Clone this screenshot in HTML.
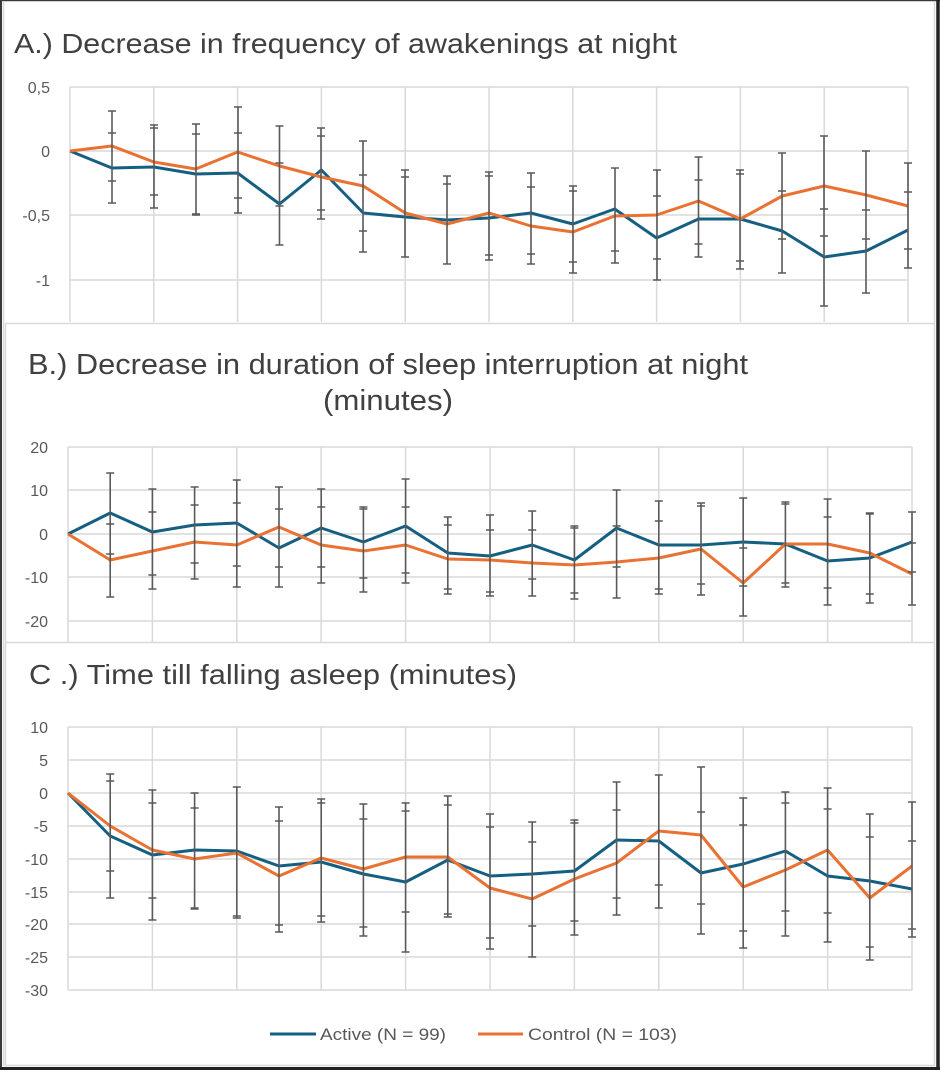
<!DOCTYPE html>
<html><head><meta charset="utf-8"><style>
html,body{margin:0;padding:0;background:#fff;}
svg{display:block;}
text{font-family:"Liberation Sans",Arial,sans-serif;}
</style></head><body>
<svg width="940" height="1070" viewBox="0 0 940 1070" xmlns="http://www.w3.org/2000/svg">
<rect x="0" y="0" width="940" height="1070" fill="#fff"/>
<!-- panel borders -->
<g fill="none" stroke="#d9d9d9" stroke-width="1.5">
<path d="M3.5 2V1066"/>
<path d="M5 323.5H935M5.5 323V1066M5 642.5H935M934.5 2V1066M5 1065.5H935"/>
</g>
<!-- outer dark frame -->
<g fill="none" stroke="#3a3a3a">
<path d="M0 0.5H940" stroke-width="1.5"/>
<path d="M1 0V1070" stroke-width="2"/>
<path d="M938 0V1070" stroke-width="3.5" stroke="#222"/>
<path d="M0 1068.5H940" stroke-width="3" stroke="#222"/>
</g>

<!-- gridlines -->
<g stroke="#d9d9d9" stroke-width="1.5" fill="none">
<path d="M70 87H908M70 151H908M70 215H908M70 280H908"/>
<path d="M70 87V322M153.8 87V322M237.6 87V322M321.4 87V322M405.2 87V322M489 87V322M572.8 87V322M656.6 87V322M740.4 87V322M824.2 87V322M908 87V322"/>
<path d="M68 447H912M68 490H912M68 534H912M68 577H912M68 621H912"/>
<path d="M68 447V642M152.4 447V642M236.8 447V642M321.2 447V642M405.6 447V642M490 447V642M574.4 447V642M658.8 447V642M743.2 447V642M827.6 447V642M912 447V642"/>
<path d="M68 727H912M68 760H912M68 793H912M68 826H912M68 859H912M68 892H912M68 924H912M68 957H912M68 990H912"/>
<path d="M68 727V990M152.4 727V990M236.8 727V990M321.2 727V990M405.6 727V990M490 727V990M574.4 727V990M658.8 727V990M743.2 727V990M827.6 727V990M912 727V990"/>
</g>

<!-- titles -->
<g fill="#404040">
<text x="14" y="53" font-size="28" textLength="663" lengthAdjust="spacingAndGlyphs">A.) Decrease in frequency of awakenings at night</text>
<text x="28" y="374" font-size="29" textLength="720" lengthAdjust="spacingAndGlyphs">B.) Decrease in duration of sleep interruption at night</text>
<text x="323" y="410" font-size="29" textLength="130" lengthAdjust="spacingAndGlyphs">(minutes)</text>
<text x="29" y="684" font-size="28" textLength="488" lengthAdjust="spacingAndGlyphs">C .) Time till falling asleep (minutes)</text>
</g>

<!-- y labels -->
<g fill="#595959" font-size="16" text-anchor="end">
<text x="50" y="93">0,5</text>
<text x="50" y="157">0</text>
<text x="50" y="221">-0,5</text>
<text x="50" y="286">-1</text>
<text x="48" y="453">20</text>
<text x="48" y="496">10</text>
<text x="48" y="540">0</text>
<text x="48" y="583">-10</text>
<text x="48" y="627">-20</text>
<text x="48" y="733">10</text>
<text x="48" y="766">5</text>
<text x="48" y="799">0</text>
<text x="48" y="832">-5</text>
<text x="48" y="865">-10</text>
<text x="48" y="898">-15</text>
<text x="48" y="930">-20</text>
<text x="48" y="963">-25</text>
<text x="48" y="996">-30</text>
</g>

<!-- series lines -->
<g fill="none" stroke-width="3" stroke-linejoin="round">
<polyline stroke="#156082" points="70,151 111.9,168 153.8,167 195.7,174 237.6,173 279.5,204 321.4,170 363.3,213 405.2,217 447.1,220 489,218 530.9,213 572.8,224 614.7,209 656.6,238 698.5,219 740.4,219 782.3,231 824.2,257 866.1,251 908,230"/>
<polyline stroke="#E97132" points="70,151 111.9,146 153.8,162 195.7,169 237.6,152 279.5,166 321.4,177 363.3,186 405.2,213 447.1,224 489,213 530.9,226 572.8,232 614.7,216 656.6,215 698.5,201 740.4,219 782.3,196 824.2,186 866.1,195 908,206"/>
<polyline stroke="#156082" points="68,534 110.2,513 152.4,532 194.6,525 236.8,523 279,548 321.2,528 363.4,542 405.6,526 447.8,553 490,556 532.2,545 574.4,560 616.6,528 658.8,545 701,545 743.2,542 785.4,544 827.6,561 869.8,558 912,542"/>
<polyline stroke="#E97132" points="68,534 110.2,560 152.4,551 194.6,542 236.8,545 279,527 321.2,545 363.4,551 405.6,545 447.8,559 490,560 532.2,563 574.4,565 616.6,562 658.8,558 701,549 743.2,583 785.4,544 827.6,544 869.8,553 912,574"/>
<polyline stroke="#156082" points="68,793 110.2,836 152.4,855 194.6,850 236.8,851 279,866 321.2,862 363.4,874 405.6,882 447.8,860 490,876 532.2,874 574.4,871 616.6,840 658.8,841 701,873 743.2,864 785.4,851 827.6,876 869.8,881 912,889"/>
<polyline stroke="#E97132" points="68,793 110.2,826 152.4,850 194.6,859 236.8,853 279,876 321.2,858 363.4,869 405.6,857 447.8,857 490,888 532.2,899 574.4,879 616.6,863 658.8,831 701,835 743.2,887 785.4,870 827.6,850 869.8,898 912,866"/>
</g>

<!-- error bars -->
<g fill="none" stroke="#595959" stroke-width="1.6">
<path d="M112 111V203M108 111h8M108 181h8M108 133h8M108 203h8
M154 125V208M150 125h8M150 128h8M150 195h8M150 208h8
M196 124V215M192 124h8M192 134h8M192 214h8M192 215h8
M238 107V213M234 107h8M234 133h8M234 198h8M234 213h8
M279.5 126V245M275.5 126h8M275.5 163h8M275.5 206h8M275.5 245h8
M321 128V219M317 128h8M317 136h8M317 210h8M317 219h8
M363 141V252M359 141h8M359 175h8M359 231h8M359 252h8
M405 170V257M401 170h8M401 177h8M401 257h8
M447 176V264M443 176h8M443 184h8M443 264h8
M489 172V260M485 172h8M485 176h8M485 255h8M485 260h8
M531 173V264M527 173h8M527 187h8M527 254h8M527 264h8
M573 186V273M569 186h8M569 191h8M569 262h8M569 273h8
M615 168V263M611 168h8M611 251h8M611 263h8
M657 170V280M653 170h8M653 196h8M653 259h8M653 280h8
M698.5 157V257M694.5 157h8M694.5 180h8M694.5 244h8M694.5 257h8
M740 170V269M736 170h8M736 174h8M736 261h8M736 269h8
M782 153V273M778 153h8M778 191h8M778 239h8M778 273h8
M824 136V306M820 136h8M820 209h8M820 236h8M820 306h8
M866 151V293M862 151h8M862 210h8M862 239h8M862 293h8
M908 163V268M904 163h8M904 192h8M904 249h8M904 268h8"/>
<path d="M110.2 473V597M106.2 473h8M106.2 524h8M106.2 554h8M106.2 597h8
M152.4 489V589M148.4 489h8M148.4 512h8M148.4 575h8M148.4 589h8
M194.6 487V579M190.6 487h8M190.6 505h8M190.6 563h8M190.6 579h8
M236.8 480V587M232.8 480h8M232.8 503h8M232.8 566h8M232.8 587h8
M279 487V587M275 487h8M275 509h8M275 567h8M275 587h8
M321.2 489V583M317.2 489h8M317.2 507h8M317.2 567h8M317.2 583h8
M363.4 507V592M359.4 507h8M359.4 509h8M359.4 578h8M359.4 592h8
M405.6 479V583M401.6 479h8M401.6 507h8M401.6 573h8M401.6 583h8
M447.8 517V594M443.8 517h8M443.8 525h8M443.8 589h8M443.8 594h8
M490 515V596M486 515h8M486 530h8M486 592h8M486 596h8
M532.2 511V596M528.2 511h8M528.2 530h8M528.2 579h8M528.2 596h8
M574.4 526V599M570.4 526h8M570.4 528h8M570.4 593h8M570.4 599h8
M616.6 490V598M612.6 490h8M612.6 526h8M612.6 567h8M612.6 598h8
M658.8 501V594M654.8 501h8M654.8 521h8M654.8 589h8M654.8 594h8
M701 503V595M697 503h8M697 506h8M697 584h8M697 595h8
M743.2 498V616M739.2 498h8M739.2 548h8M739.2 586h8M739.2 616h8
M785.4 502V587M781.4 502h8M781.4 504h8M781.4 583h8M781.4 587h8
M827.6 499V605M823.6 499h8M823.6 517h8M823.6 588h8M823.6 605h8
M869.8 513V603M865.8 513h8M865.8 514h8M865.8 594h8M865.8 603h8
M912 512V605M908 512h8M908 543h8M908 572h8M908 605h8"/>
<path d="M110.2 774V898M106.2 774h8M106.2 781h8M106.2 871h8M106.2 898h8
M152.4 790V920M148.4 790h8M148.4 803h8M148.4 898h8M148.4 920h8
M194.6 793V909M190.6 793h8M190.6 808h8M190.6 908h8M190.6 909h8
M236.8 787V918M232.8 787h8M232.8 916h8M232.8 918h8
M279 807V932M275 807h8M275 821h8M275 925h8M275 932h8
M321.2 799V922M317.2 799h8M317.2 803h8M317.2 916h8M317.2 922h8
M363.4 804V936M359.4 804h8M359.4 819h8M359.4 927h8M359.4 936h8
M405.6 803V952M401.6 803h8M401.6 811h8M401.6 912h8M401.6 952h8
M447.8 796V917M443.8 796h8M443.8 805h8M443.8 914h8M443.8 917h8
M490 814V949M486 814h8M486 827h8M486 938h8M486 949h8
M532.2 822V957M528.2 822h8M528.2 842h8M528.2 926h8M528.2 957h8
M574.4 820V935M570.4 820h8M570.4 823h8M570.4 921h8M570.4 935h8
M616.6 782V915M612.6 782h8M612.6 810h8M612.6 898h8M612.6 915h8
M658.8 775V908M654.8 775h8M654.8 885h8M654.8 908h8
M701 767V934M697 767h8M697 812h8M697 904h8M697 934h8
M743.2 798V948M739.2 798h8M739.2 825h8M739.2 931h8M739.2 948h8
M785.4 792V936M781.4 792h8M781.4 803h8M781.4 911h8M781.4 936h8
M827.6 788V942M823.6 788h8M823.6 809h8M823.6 913h8M823.6 942h8
M869.8 814V960M865.8 814h8M865.8 837h8M865.8 947h8M865.8 960h8
M912 802V937M908 802h8M908 841h8M908 929h8M908 937h8"/>
</g>

<!-- legend -->
<g>
<path d="M270 1034H316" stroke="#156082" stroke-width="3"/>
<text x="320" y="1040" font-size="16.5" fill="#595959" textLength="126" lengthAdjust="spacingAndGlyphs">Active (N = 99)</text>
<path d="M478 1034H523" stroke="#E97132" stroke-width="3"/>
<text x="528" y="1040" font-size="16.5" fill="#595959" textLength="149" lengthAdjust="spacingAndGlyphs">Control (N = 103)</text>
</g>
</svg>
</body></html>
